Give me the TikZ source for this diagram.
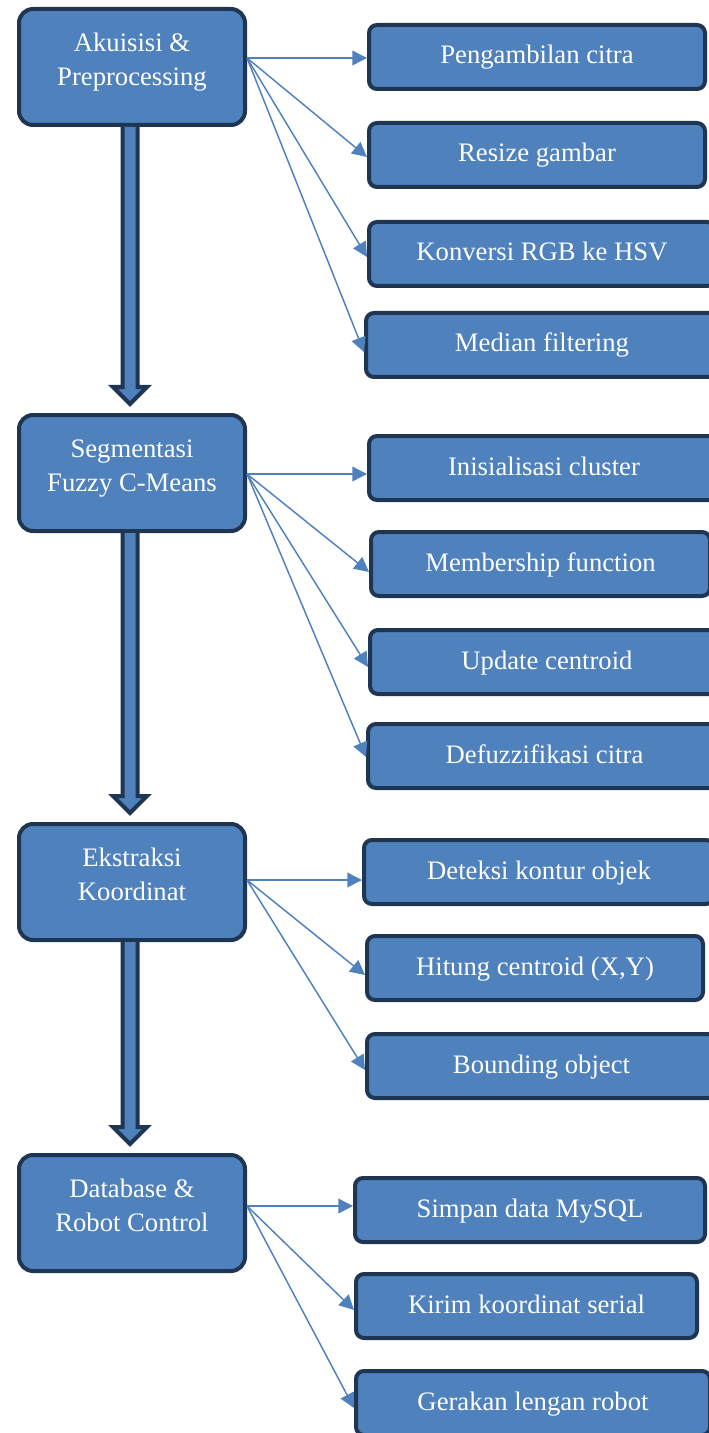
\documentclass[tikz,border=0pt]{standalone}
\usepackage{fontspec}
\setmainfont{Liberation Serif}
\usetikzlibrary{arrows.meta,calc}
\definecolor{boxblue}{RGB}{79,129,189}
\definecolor{boxnavy}{RGB}{31,54,82}
\tikzset{every picture/.style={line width=0.75pt}}
\tikzset{
  mainbox/.style={draw=boxnavy, fill=boxblue, line width=3pt, rounded corners=10.5pt, minimum width=169.5pt, minimum height=87pt},
  boxtext/.style={text=white, align=center, text depth=4.4pt, font=\fontsize{20}{25.5}\selectfont},
  subbox/.style={draw=boxnavy, fill=boxblue, line width=3pt, rounded corners=6pt, minimum height=48pt, anchor=west, text=white, text height=14pt, text depth=3.5pt, font=\fontsize{20}{24}\selectfont},
  link/.style={draw=boxblue, line width=1.1pt, -{Triangle[length=11pt,width=11pt]}},
  fatarrow/.style={draw=boxnavy, fill=boxblue, line width=3pt, line join=miter}
}

\begin{document}
\begin{tikzpicture}[x=0.75pt,y=0.75pt,yscale=-1,xscale=1]
\useasboundingbox (0,0) rectangle (708,1433);

% Main stages
\node[mainbox, label={[boxtext, yshift=3.5pt]center:{Akuisisi \&\\Preprocessing}}] (akuisisi) at (132,67) {};
\node[mainbox, label={[boxtext, yshift=3.5pt]center:{Segmentasi\\Fuzzy C-Means}}] (segmentasi) at (132,473) {};
\node[mainbox, label={[boxtext, yshift=3.5pt]center:{Ekstraksi\\Koordinat}}] (ekstraksi) at (132,882) {};
\node[mainbox, label={[boxtext, yshift=3.5pt]center:{Database \&\\Robot Control}}] (database) at (132,1213) {};

% Steps of stage 1
\node[subbox, minimum width=252pt] (pengambilan) at (367,57) {Pengambilan citra};
\node[subbox, minimum width=252pt] (resize) at (367,155) {Resize gambar};
\node[subbox, minimum width=259.5pt] (konversi) at (367,254) {Konversi RGB ke HSV};
\node[subbox, minimum width=264pt] (median) at (364,345) {Median filtering};
% Steps of stage 2
\node[subbox, minimum width=262.5pt] (inisialisasi) at (367,468) {Inisialisasi cluster};
\node[subbox, minimum width=254.25pt] (membership) at (369,564) {Membership function};
\node[subbox, minimum width=265.5pt] (update) at (368,662) {Update centroid};
\node[subbox, minimum width=264.75pt] (defuzzifikasi) at (366,756) {Defuzzifikasi citra};
% Steps of stage 3
\node[subbox, minimum width=262.5pt] (deteksi) at (362,872) {Deteksi kontur objek};
\node[subbox, minimum width=252pt] (hitung) at (365,968) {Hitung centroid (X,Y)};
\node[subbox, minimum width=261.75pt] (bounding) at (365,1066) {Bounding object};
% Steps of stage 4
\node[subbox, minimum width=262.5pt] (simpan) at (353,1210) {Simpan data MySQL};
\node[subbox, minimum width=255.75pt] (kirim) at (354,1306) {Kirim koordinat serial};
\node[subbox, minimum width=265.5pt] (gerakan) at (354,1403) {Gerakan lengan robot};

% Flow between stages
\foreach \a/\b in {akuisisi/segmentasi, segmentasi/ekstraksi, ekstraksi/database}
  \path[fatarrow] ($(\a.south)+(-9.5,0)$) -- ($(\b.north)+(-9.5,-26)$) -- ($(\b.north)+(-19,-26)$) -- ($(\b.north)+(-2,-9)$) -- ($(\b.north)+(15,-26)$) -- ($(\b.north)+(5.5,-26)$) -- ($(\a.south)+(5.5,0)$);

% Connectors to the steps
\coordinate (akuisisi-out) at ($(akuisisi.east)+(0,-9)$);
\coordinate (segmentasi-out) at ($(segmentasi.east)+(0,1)$);
\coordinate (ekstraksi-out) at ($(ekstraksi.east)+(0,-2)$);
\coordinate (database-out) at ($(database.east)+(0,-7)$);
\foreach \src/\dst in {akuisisi/pengambilan, segmentasi/inisialisasi, ekstraksi/deteksi, database/simpan}
  \draw[link] (\src-out) -- (\dst.west |- \src-out);
\foreach \src/\dst/\dy in {akuisisi/resize/2, akuisisi/konversi/3, akuisisi/median/7,
    segmentasi/membership/8, segmentasi/update/5, segmentasi/defuzzifikasi/1,
    ekstraksi/hitung/7, ekstraksi/bounding/4, database/kirim/4, database/gerakan/5}
  \draw[link] (\src-out) -- ($(\dst.west)+(0,\dy)$);

\end{tikzpicture}
\end{document}
